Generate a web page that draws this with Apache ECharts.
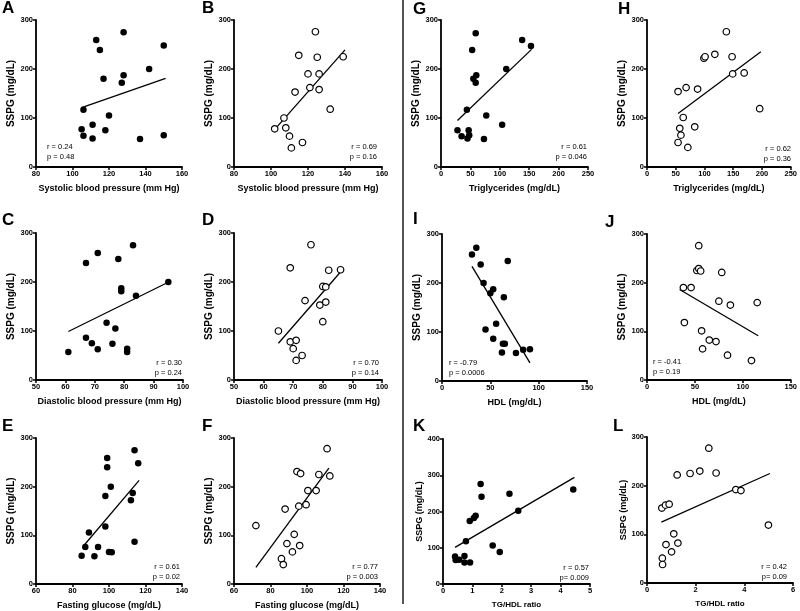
<!DOCTYPE html>
<html>
<head>
<meta charset="utf-8">
<title>SSPG correlations</title>
<script src="https://cdn.jsdelivr.net/npm/echarts/dist/echarts.min.js"></script>
<style>html,body{margin:0;background:#fff}#main{width:800px;height:611px}</style>
</head>
<body>
<div id="main"></div>
<script>
// ---- data: [x, SSPG] ----
// filled = one group, open = other group
var sbpFilled = [[105,77],[106,64],[106,117],[111,58],[111,86],[113,259],[115,239],[117,180],[118,75],[120,105],[127,172],[128,187],[128,275],[137,57],[142,200],[150,248],[150,65]];
var sbpFilledFit = [[105,121],[151,181]];
var sbpOpen = [[102,78],[107,100],[108,80],[110,63],[111,39],[113,153],[115,228],[117,50],[120,190],[121,162],[124,276],[125,224],[126,190],[126,158],[132,118],[139,225]];
var sbpOpenFit = [[103,81],[140,239]];

var dbpFilled = [[61,57],[67,239],[67,86],[69,75],[71,259],[71,63],[74,117],[76,74],[77,105],[78,247],[79,187],[79,181],[81,64],[81,57],[83,275],[84,172],[95,200]];
var dbpFilledFit = [[61,99],[95.5,201]];
var dbpOpen = [[65,100],[69,229],[69,78],[70,64],[71,81],[71,40],[73,50],[74,162],[76,276],[79,153],[80,191],[80,119],[81,190],[81,159],[82,224],[86,225]];
var dbpOpenFit = [[65,75],[86.5,224]];

var fgFilled = [[85,58],[87,76],[89,106],[92,57],[94,76],[98,118],[98,181],[99,259],[99,240],[100,66],[101,200],[101.5,65],[112,172],[113,187],[114,275],[114,87],[116,248]];
var fgFilledFit = [[86,78],[116.5,213]];
var fgOpen = [[72,120],[86,52],[87,40],[88,154],[89,83],[92,66],[93,102],[94.5,231],[95.5,160],[96,79],[96.5,227],[99.5,163],[100.5,192],[105,192],[106.5,225],[111,278],[112.5,222]];
var fgOpenFit = [[72,34],[112,238]];

var tgFilled = [[28,75],[35,63],[45,58],[47,75],[48,65],[44,117],[53,239],[55,180],[59,172],[60,187],[59,273],[73,57],[77,105],[104,86],[111,200],[138,259],[153,247]];
var tgFilledFit = [[28,95],[154,240]];
var tgOpen = [[54,50],[57,79],[59,65],[54,154],[63,101],[68,162],[71,40],[83,82],[88,159],[99,222],[101,225],[118,230],[138,276],[148,225],[149,190],[169,192],[196,119]];
var tgOpenFit = [[54,109],[198,235]];

var hdlFilled = [[31,258],[35.5,272],[40,238],[43,200],[50,179],[53,187],[45,105],[53,86],[56,117],[63,76],[65,76],[62,58],[64,171],[68,245],[76.5,57],[84,64],[91,65]];
var hdlFilledFit = [[31,234],[91,37]];
var hdlOpen = [[38,190],[39,118],[46,190],[54,276],[52,225],[54,229],[56,224],[57,101],[58,64],[65,82],[72,79],[75,162],[78,221],[84,51],[87,154],[109,40],[115,159]];
var hdlOpenFit = [[34,186],[116,91]];

var ratioFilled = [[0.41,76],[0.43,66],[0.55,67],[0.73,77],[0.73,59],[0.92,59],[0.78,118],[0.91,174],[1.05,182],[1.11,188],[1.31,241],[1.28,276],[1.69,106],[1.93,88],[2.26,249],[2.56,202],[4.43,261]];
var ratioFilledFit = [[0.41,101],[4.47,294]];
var ratioOpen = [[0.63,51],[0.64,38],[0.61,154],[0.78,79],[0.76,160],[0.91,162],[1.01,64],[1.1,101],[1.27,82],[1.24,222],[1.77,225],[2.17,230],[2.54,277],[2.84,226],[3.65,192],[3.86,190],[4.99,119]];
var ratioOpenFit = [[0.59,125],[5.05,225]];

var stats = {
  A: ['r = 0.24', 'p = 0.48'], B: ['r = 0.69', 'p = 0.16'],
  C: ['r = 0.30', 'p = 0.24'], D: ['r = 0.70', 'p = 0.14'],
  E: ['r = 0.61', 'p = 0.02'], F: ['r = 0.77', 'p = 0.003'],
  G: ['r = 0.61', 'p = 0.046'], H: ['r = 0.62', 'p = 0.36'],
  I: ['r = -0.79', 'p = 0.0006'], J: ['r = -0.41', 'p = 0.19'],
  K: ['r = 0.57', 'p= 0.009'], L: ['r = 0.42', 'p= 0.09']
};

var sbpName = 'Systolic blood pressure (mm Hg)';
var dbpName = 'Diastolic blood pressure (mm Hg)';
var fgName = 'Fasting glucose (mg/dL)';
var tgName = 'Triglycerides (mg/dL)';
var hdlName = 'HDL (mg/dL)';
var ratioName = 'TG/HDL ratio';
var yName = 'SSPG (mg/dL)';

// ---- layout: box = [left, top, width, height] ----
var panels = [
  {id:'A', pts:sbpFilled, fit:sbpFilledFit, open:false, box:[36,20,146,147], x:[80,160,20], y:[0,300,100], xName:sbpName, st:[47,147,'left'], lt:[2,8], fs:9},
  {id:'B', pts:sbpOpen, fit:sbpOpenFit, open:true, box:[234,20,148,147], x:[80,160,20], y:[0,300,100], xName:sbpName, st:[377,147,'right'], lt:[202,8], fs:9},
  {id:'G', pts:tgFilled, fit:tgFilledFit, open:false, box:[441,20,147,147], x:[0,250,50], y:[0,300,100], xName:tgName, st:[587,147,'right'], lt:[413,9], fs:9},
  {id:'H', pts:tgOpen, fit:tgOpenFit, open:true, box:[647,20,145,147], x:[0,250,50], y:[0,300,100], xName:tgName, st:[791,149,'right'], lt:[618,9], fs:9},
  {id:'C', pts:dbpFilled, fit:dbpFilledFit, open:false, box:[36,233,147,147], x:[50,100,10], y:[0,300,100], xName:dbpName, st:[182,363,'right'], lt:[2,220], fs:9},
  {id:'D', pts:dbpOpen, fit:dbpOpenFit, open:true, box:[234,233,148,147], x:[50,100,10], y:[0,300,100], xName:dbpName, st:[379,363,'right'], lt:[202,220], fs:9},
  {id:'I', pts:hdlFilled, fit:hdlFilledFit, open:false, box:[442,234,145,147], x:[0,150,50], y:[0,300,100], xName:hdlName, st:[449,363,'left'], lt:[413,219], fs:9},
  {id:'J', pts:hdlOpen, fit:hdlOpenFit, open:true, box:[647,234,147,146], x:[0,150,50], y:[0,300,100], xName:hdlName, st:[653,362,'left'], lt:[605,222], fs:9},
  {id:'E', pts:fgFilled, fit:fgFilledFit, open:false, box:[36,438,146,146], x:[60,140,20], y:[0,300,100], xName:fgName, st:[180,567,'right'], lt:[2,426], fs:9},
  {id:'F', pts:fgOpen, fit:fgOpenFit, open:true, box:[234,438,146,146], x:[60,140,20], y:[0,300,100], xName:fgName, st:[378,567,'right'], lt:[202,426], fs:9},
  {id:'K', pts:ratioFilled, fit:ratioFilledFit, open:false, box:[443,439,147,145], x:[0,5,1], y:[0,400,100], xName:ratioName, st:[589,568,'right'], lt:[413,426], fs:8},
  {id:'L', pts:ratioOpen, fit:ratioOpenFit, open:true, box:[647,437,146,146], x:[0,6,2], y:[0,300,100], xName:ratioName, st:[787,567,'right'], lt:[613,426], fs:8}
];

var FONT = 'Arial, "Liberation Sans", sans-serif';
var axisLine = {onZero:false, lineStyle:{color:'#000', width:1.8}};
var axisTick = {length:3, lineStyle:{color:'#000', width:1.5}};

var grids = [], xAxes = [], yAxes = [], series = [], graphics = [];

panels.forEach(function (p, i) {
  grids.push({left:p.box[0], top:p.box[1], width:p.box[2], height:p.box[3]});
  xAxes.push({
    gridIndex:i, type:'value', min:p.x[0], max:p.x[1], interval:p.x[2],
    name:p.xName, nameLocation:'middle', nameGap:17,
    nameTextStyle:{fontWeight:'bold', fontSize:p.fs, color:'#000', fontFamily:FONT},
    axisLine:axisLine, axisTick:axisTick, splitLine:{show:false},
    axisLabel:{margin:3, fontSize:7.5, fontWeight:'bold', color:'#000', fontFamily:FONT}
  });
  yAxes.push({
    gridIndex:i, type:'value', min:p.y[0], max:p.y[1], interval:p.y[2],
    name:yName, nameLocation:'middle', nameGap:16,
    nameTextStyle:{fontWeight:'bold', fontSize:p.fs + 1, color:'#000', fontFamily:FONT},
    axisLine:axisLine, axisTick:axisTick, splitLine:{show:false},
    axisLabel:{margin:3, fontSize:7.5, fontWeight:'bold', color:'#000', fontFamily:FONT}
  });
  series.push({
    type:'line', xAxisIndex:i, yAxisIndex:i, data:p.fit, symbol:'none', z:1,
    lineStyle:{color:'#000', width:1.3}
  });
  series.push({
    type:'scatter', xAxisIndex:i, yAxisIndex:i, data:p.pts, symbolSize:6.5, z:2,
    itemStyle: p.open ? {color:'#fff', borderColor:'#000', borderWidth:1.2, opacity:1}
                      : {color:'#000', borderWidth:0, opacity:1}
  });
  // panel letter
  graphics.push({type:'text', x:p.lt[0], y:p.lt[1], style:{
    text:p.id, fontSize:17, fontWeight:'bold', fontFamily:FONT, fill:'#000',
    align:'left', verticalAlign:'middle'}});
  // r / p
  stats[p.id].forEach(function (s, k) {
    graphics.push({type:'text', x:p.st[0], y:p.st[1] + k * 9.5, style:{
      text:s, fontSize:7.5, fontFamily:FONT, fill:'#000',
      align:p.st[2], verticalAlign:'middle'}});
  });
});

// divider between left and right halves
graphics.push({type:'line', shape:{x1:403, y1:0, x2:403, y2:604},
  style:{stroke:'#555', lineWidth:2}});

var myChart = echarts.init(document.getElementById('main'));
myChart.setOption({
  animation:false,
  grid:grids, xAxis:xAxes, yAxis:yAxes, series:series, graphic:graphics
});
</script>
</body>
</html>
